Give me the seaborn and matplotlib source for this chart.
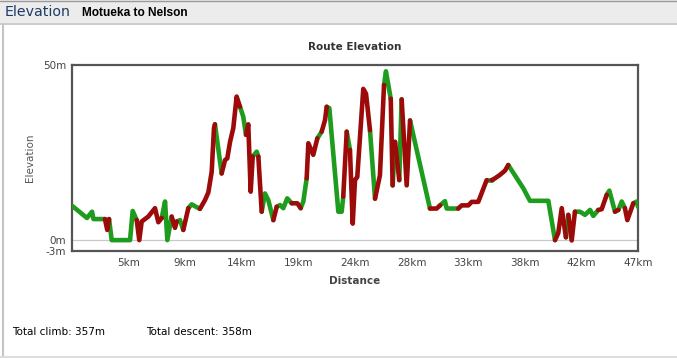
import numpy as np
import pandas as pd
import seaborn as sns
import matplotlib
matplotlib.use("Agg")
import matplotlib.pyplot as plt
from matplotlib.patches import Rectangle
from matplotlib.lines import Line2D

# ---- data ----
distance_km = [0.00, 1.25, 1.67, 1.79, 2.75, 2.94, 3.09, 3.31, 4.84, 5.06,
               5.40, 5.61, 5.81, 6.36, 6.92, 7.20, 7.48, 7.76, 7.95, 8.31,
               8.59, 8.73, 9.01, 9.28, 9.70, 9.98, 10.34, 10.67, 11.09, 11.37,
               11.65, 11.84, 11.92, 12.48, 12.76, 12.95, 13.18, 13.45, 13.73, 14.01,
               14.28, 14.51, 14.70, 14.90, 15.07, 15.40, 15.54, 15.82, 16.09, 16.37,
               16.79, 17.07, 17.35, 17.62, 17.95, 18.32, 18.79, 19.07, 19.29, 19.57,
               19.71, 20.12, 20.46, 20.82, 21.10, 21.24, 21.46, 22.21, 22.49, 22.62,
               22.91, 23.18, 23.41, 23.60, 23.79, 24.29, 24.52, 24.85, 25.27, 25.68,
               26.02, 26.18, 26.58, 26.74, 26.94, 27.29, 27.49, 27.91, 28.19, 29.85,
               30.41, 30.69, 31.10, 31.25, 32.21, 32.50, 33.05, 33.33, 33.88, 34.58,
               35.00, 35.27, 35.69, 36.11, 36.38, 37.63, 38.19, 39.72, 40.28, 40.55,
               40.84, 41.19, 41.39, 41.67, 41.94, 42.36, 42.78, 43.20, 43.47, 43.89,
               44.17, 44.59, 44.81, 45.28, 45.56, 45.84, 46.11, 46.31, 46.81, 47.09,
               47.20]
elevation_m = [9.9, 6.4, 8.2, 6.1, 6.1, 3.0, 6.1, 0.1, 0.1, 8.4,
               5.8, 0.1, 5.4, 6.8, 9.2, 5.2, 6.4, 11.1, 0.1, 6.8,
               3.6, 5.4, 5.8, 3.0, 9.2, 10.3, 9.6, 9.0, 11.5, 13.7,
               19.6, 32.0, 33.1, 19.1, 22.9, 23.4, 28.1, 32.0, 41.0, 38.1,
               35.3, 30.1, 33.1, 13.9, 23.9, 25.3, 23.9, 8.2, 13.4, 11.5,
               5.8, 9.6, 10.1, 9.2, 12.0, 10.6, 10.6, 9.2, 11.1, 17.7,
               27.7, 24.4, 29.1, 31.0, 34.3, 38.1, 37.7, 8.2, 8.2, 12.5,
               31.0, 25.8, 4.8, 17.2, 18.1, 43.2, 41.8, 31.4, 11.9, 18.6,
               44.3, 48.2, 40.4, 15.7, 28.1, 17.2, 40.2, 15.7, 34.2, 9.1,
               9.1, 10.0, 11.2, 9.1, 9.1, 10.0, 10.0, 11.0, 11.0, 17.2,
               17.2, 17.7, 18.7, 19.9, 21.5, 14.9, 11.3, 11.3, 0.1, 2.1,
               9.2, 0.9, 7.3, 0.0, 8.2, 8.2, 7.3, 8.7, 7.0, 8.7,
               8.9, 13.0, 14.2, 8.2, 8.7, 11.1, 9.2, 5.8, 10.6, 11.1,
               9.6]
# colour of the segment that ends at each point (first entry unused)
segment_colour = list(
    "g" "gggg" "rr" "gggg" "rrrrrr" "ggg" "rr" "gg" "r" "ggg" "rrrrr" "g"
    "rrrrrr" "gg" "rrr" "gg" "r" "ggg" "r" "gggg" "rr" "gg" "rrr" "g" "rr"
    "gggg" "r" "g" "rrrrrr" "g" "rr" "gg" "r" "g" "r" "g" "rr" "g" "rr"
    "ggg" "rrrrr" "g" "rrrr" "gggg" "rrr" "g" "rr" "ggggg" "rr" "gg" "r"
    "gg" "rr" "gg"
)
x_tick_labels = ["5km", "9km", "14km", "19km", "24km", "28km", "33km",
                 "38km", "42km", "47km"]
total_climb = "357m"
total_descent = "358m"

# ---- build runs of same-coloured segments ----
n = len(distance_km)
cols = (segment_colour + ["g"] * n)[:n]
rows = []
run = 0
prev = None
for i in range(1, n):
    c = cols[i]
    if c != prev:
        run += 1
        rows.append(dict(km=distance_km[i - 1], m=elevation_m[i - 1], run=run, col=c))
    rows.append(dict(km=distance_km[i], m=elevation_m[i], run=run, col=c))
    prev = c
df = pd.DataFrame(rows)

RED = "#9c0a0a"
GREEN = "#1e9c1e"

sns.set_theme(style="white")
plt.rcParams['font.family'] = ['DejaVu Sans']

fig = plt.figure(figsize=(6.77, 3.58), dpi=100)
fig.patch.set_facecolor("white")

# page chrome
fig.add_artist(Rectangle((0, 1 - 23 / 358), 1, 23 / 358, transform=fig.transFigure,
                         facecolor="#ececec", edgecolor="none", zorder=0))
fig.add_artist(Line2D([0, 1], [1 - 23.5 / 358] * 2, transform=fig.transFigure, color="#c4c4c4", lw=1.2))
fig.add_artist(Line2D([0, 1], [1 - 0.5 / 358] * 2, transform=fig.transFigure, color="#9a9a9a", lw=1.0))
fig.add_artist(Line2D([2.5 / 677] * 2, [0, 1 - 23.5 / 358], transform=fig.transFigure, color="#c4c4c4", lw=1.5))
fig.add_artist(Line2D([0, 1], [1.5 / 358] * 2, transform=fig.transFigure, color="#dcdcdc", lw=1.5))
fig.text(5 / 677, 1 - 12 / 358, "Elevation", color="#1d3c66", fontsize=10.2,
         va="center", ha="left", family=["DejaVu Sans"])
fig.text(82 / 677, 1 - 13 / 358, "Motueka to Nelson", color="black", fontsize=8.6,
         fontweight="bold", va="center", ha="left",
         family=["Liberation Sans Narrow", "Liberation Sans", "DejaVu Sans"])

ax = fig.add_axes([72 / 677, 1 - 251 / 358, 566 / 677, 186 / 358])
ax.axhline(0, color="#c8c8c8", lw=0.9, zorder=1)

palette = {"r": RED, "g": GREEN}
sns.lineplot(data=df, x="km", y="m", units="run", hue="col", palette=palette,
             estimator=None, sort=False, lw=3.3, legend=False, ax=ax,
             solid_capstyle="round", solid_joinstyle="round", zorder=3)

D = distance_km[-1]
ax.set_xlim(0, D)
ax.set_ylim(-3, 50)
ax.set_xticks([D * (i + 1) / 10 for i in range(10)])
ax.set_xticklabels(x_tick_labels)
ax.set_yticks([50, 0, -3])
ax.set_yticklabels(["50m", "0m", "-3m"])
ax.tick_params(axis="both", length=0, labelsize=7.5, labelcolor="#444444")
ax.tick_params(axis="x", pad=5)
ax.tick_params(axis="y", pad=4)
for s in ax.spines.values():
    s.set_visible(True)
    s.set_color("#555555")
    s.set_linewidth(1.6)
ax.set_xlabel("Distance", fontsize=7.5, fontweight="bold", color="#444444", labelpad=6)
ax.set_ylabel("Elevation", fontsize=7.5, color="#555555", labelpad=6)
ax.set_title("Route Elevation", fontsize=7.5, fontweight="bold", color="#333333", pad=11)
ax.grid(False)

fig.text(12 / 677, 1 - 332 / 358, f"Total climb: {total_climb}", fontsize=7.5,
         color="black", va="center", ha="left")
fig.text(146 / 677, 1 - 332 / 358, f"Total descent: {total_descent}", fontsize=7.5,
         color="black", va="center", ha="left")

fig.savefig("out.png", dpi=100)
